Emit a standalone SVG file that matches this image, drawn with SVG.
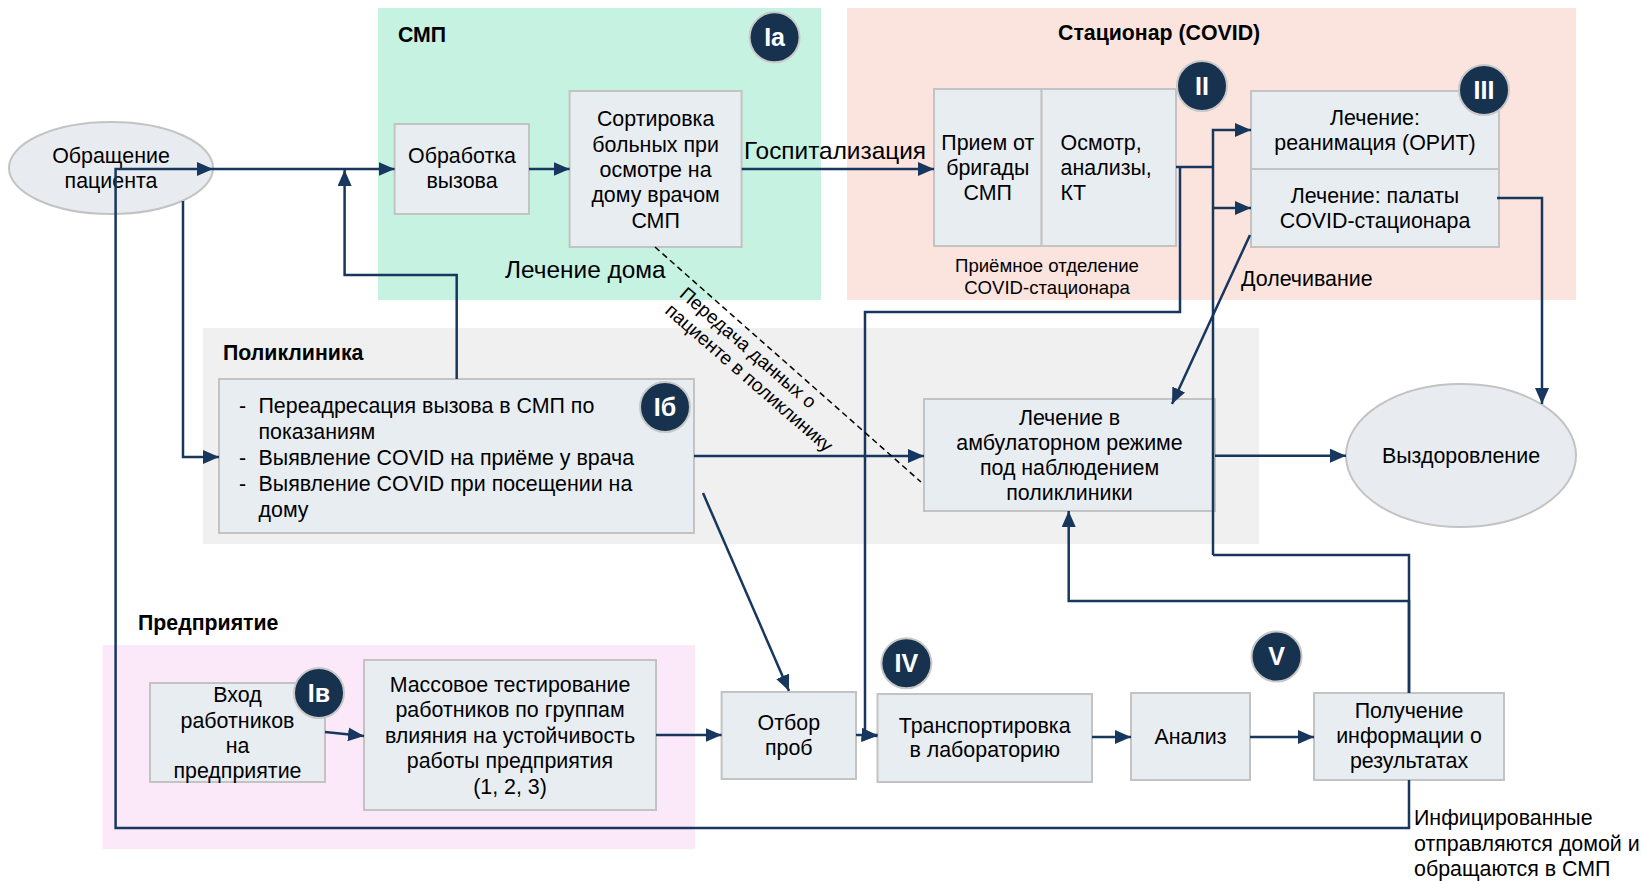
<svg xmlns="http://www.w3.org/2000/svg" width="1642" height="881" viewBox="0 0 1642 881">
  <style>
    text { font-family: "Liberation Sans", Arial, sans-serif; fill: #000; }
    .t { font-size: 21.4px; text-anchor: middle; }
    .tl { font-size: 21.4px; }
    .lbl { font-size: 24.4px; }
    .small { font-size: 18.6px; text-anchor: middle; }
    .rot { font-size: 19px; }
    .zone { font-size: 21.3px; font-weight: bold; }
    .box { fill: #E8EDF2; stroke: #C3C3C3; stroke-width: 2; }
    .badge circle { fill: #17324F; stroke: #C8C8C8; stroke-width: 2; }
    .badge text { fill: #fff; font-size: 25px; font-weight: bold; text-anchor: middle; }
    .c { fill: none; stroke: #17375E; stroke-width: 2.5; }
    .a { marker-end: url(#arrow); }
    .dash { fill: none; stroke: #000; stroke-width: 1.5; stroke-dasharray: 6 4; }
  </style>
  <defs>
    <marker id="arrow" markerUnits="userSpaceOnUse" markerWidth="16" markerHeight="14" refX="16" refY="7" orient="auto">
      <path d="M0,0 L16,7 L0,14 z" fill="#17375E"/>
    </marker>
  </defs>

  <rect width="1642" height="881" fill="#fff"/>

  <!-- zones -->
  <g id="zone-smp">
    <rect x="378" y="8" width="443" height="292" fill="#C6F2E2"/>
    <text class="zone" x="398" y="42">СМП</text>
  </g>
  <g id="zone-hospital">
    <rect x="847" y="8" width="729" height="292" fill="#FCE4DE"/>
    <text class="zone" x="1058" y="40">Стационар (COVID)</text>
  </g>
  <g id="zone-clinic">
    <rect x="203" y="328" width="1056" height="216" fill="#F0F0F0"/>
    <text class="zone" x="223" y="360">Поликлиника</text>
  </g>
  <g id="zone-enterprise">
    <rect x="102.5" y="645" width="592.5" height="204" fill="#FBE9FA"/>
    <text class="zone" x="138" y="630">Предприятие</text>
  </g>

  <!-- nodes -->
  <g id="n-appeal">
    <ellipse cx="111" cy="168" rx="102" ry="46" fill="#E8ECF0" stroke="#C3C3C3" stroke-width="2"/>
    <text class="t" x="111" y="163">Обращение</text>
    <text class="t" x="111" y="188">пациента</text>
  </g>
  <g id="n-call">
    <rect class="box" x="394.6" y="124" width="134.4" height="90"/>
    <text class="t" x="462" y="163">Обработка</text>
    <text class="t" x="462" y="188">вызова</text>
  </g>
  <g id="n-triage">
    <rect class="box" x="569.6" y="91" width="172" height="156"/>
    <text class="t" x="655.6" y="126">Сортировка</text>
    <text class="t" x="655.6" y="152">больных при</text>
    <text class="t" x="655.6" y="177">осмотре на</text>
    <text class="t" x="655.6" y="202">дому врачом</text>
    <text class="t" x="655.6" y="228">СМП</text>
  </g>
  <g id="n-admission">
    <rect class="box" x="934" y="89" width="107.6" height="157"/>
    <text class="t" x="987.8" y="150">Прием от</text>
    <text class="t" x="987.8" y="175">бригады</text>
    <text class="t" x="987.8" y="200">СМП</text>
    <rect class="box" x="1041.6" y="89" width="134.4" height="157"/>
    <text class="tl" x="1060.6" y="150">Осмотр,</text>
    <text class="tl" x="1060.6" y="175">анализы,</text>
    <text class="tl" x="1060.6" y="200">КТ</text>
    <text class="small" x="1047" y="272">Приёмное отделение</text>
    <text class="small" x="1047" y="294">COVID-стационара</text>
  </g>
  <g id="n-icu">
    <rect class="box" x="1251" y="91" width="248" height="78"/>
    <text class="t" x="1375" y="125">Лечение:</text>
    <text class="t" x="1375" y="150">реанимация (ОРИТ)</text>
  </g>
  <g id="n-ward">
    <rect class="box" x="1251" y="169" width="248" height="78"/>
    <text class="t" x="1375" y="203">Лечение: палаты</text>
    <text class="t" x="1375" y="228">COVID-стационара</text>
  </g>
  <g id="n-clinic">
    <rect class="box" x="219" y="379" width="475" height="154"/>
    <text class="tl" x="239" y="413">-</text>
    <text class="tl" x="258.5" y="413">Переадресация вызова в СМП по</text>
    <text class="tl" x="258.5" y="439">показаниям</text>
    <text class="tl" x="239" y="465">-</text>
    <text class="tl" x="258.5" y="465">Выявление COVID на приёме у врача</text>
    <text class="tl" x="239" y="491">-</text>
    <text class="tl" x="258.5" y="491">Выявление COVID при посещении на</text>
    <text class="tl" x="258.5" y="517">дому</text>
  </g>
  <g id="n-outpatient">
    <rect class="box" x="924" y="399" width="291" height="112"/>
    <text class="t" x="1069.5" y="425">Лечение в</text>
    <text class="t" x="1069.5" y="450">амбулаторном режиме</text>
    <text class="t" x="1069.5" y="475">под наблюдением</text>
    <text class="t" x="1069.5" y="500">поликлиники</text>
  </g>
  <g id="n-recovery">
    <ellipse cx="1461" cy="455.5" rx="115" ry="71.5" fill="#E8ECF0" stroke="#C3C3C3" stroke-width="2"/>
    <text class="t" x="1461" y="463">Выздоровление</text>
  </g>
  <g id="n-entry">
    <rect class="box" x="150" y="683" width="175" height="99"/>
    <text class="t" x="237.5" y="702">Вход</text>
    <text class="t" x="237.5" y="728">работников</text>
    <text class="t" x="237.5" y="753">на</text>
    <text class="t" x="237.5" y="778">предприятие</text>
  </g>
  <g id="n-mass-test">
    <rect class="box" x="364" y="660" width="292" height="150"/>
    <text class="t" x="510" y="692">Массовое тестирование</text>
    <text class="t" x="510" y="717">работников по группам</text>
    <text class="t" x="510" y="743">влияния на устойчивость</text>
    <text class="t" x="510" y="768">работы предприятия</text>
    <text class="t" x="510" y="794">(1, 2, 3)</text>
  </g>
  <g id="n-sampling">
    <rect class="box" x="721.6" y="692" width="134.4" height="87"/>
    <text class="t" x="788.8" y="730">Отбор</text>
    <text class="t" x="788.8" y="755">проб</text>
  </g>
  <g id="n-transport">
    <rect class="box" x="877.5" y="694" width="214.5" height="88"/>
    <text class="t" x="984.7" y="733">Транспортировка</text>
    <text class="t" x="984.7" y="757">в лабораторию</text>
  </g>
  <g id="n-analysis">
    <rect class="box" x="1131" y="693" width="119" height="87"/>
    <text class="t" x="1190.5" y="744">Анализ</text>
  </g>
  <g id="n-results">
    <rect class="box" x="1314" y="693" width="190" height="87"/>
    <text class="t" x="1409" y="718">Получение</text>
    <text class="t" x="1409" y="743">информации о</text>
    <text class="t" x="1409" y="768">результатах</text>
  </g>

  <!-- connectors -->
  <g id="connectors">
    <path class="c a" d="M213,169 H394.6"/>
    <path class="c a" d="M529,169 H569.6"/>
    <path class="c a" d="M741.7,169 H934"/>
    <path class="c" d="M1176,167 H1213"/>
    <path class="c a" d="M1213,555 V130 H1251"/>
    <path class="c a" d="M1213,208 H1251"/>
    <path class="c" d="M1409,693 V555 H1213"/>
    <path class="c a" d="M1180,167 V312 H865 V735 L877.5,736"/>
    <path class="c a" d="M1497,198 H1542 V404"/>
    <path class="c a" d="M1250,235 L1172,404"/>
    <path class="c a" d="M694,456 H924"/>
    <path class="c a" d="M1215,455.7 H1346"/>
    <path class="c a" d="M183,201 V457 H219"/>
    <path class="c a" d="M456.7,379 V275 H344.6 V170"/>
    <path class="c a" d="M703,493 L789,691"/>
    <path class="c a" d="M325,732 L364,736"/>
    <path class="c a" d="M656,735 H721.6"/>
    <path class="c a" d="M856,735 H877.5"/>
    <path class="c a" d="M1092,737 H1131"/>
    <path class="c a" d="M1250,737 H1314"/>
    <path class="c a" d="M1409,693 V601 H1068.7 V511"/>
    <path class="c a" d="M1409,780 V828 H115.6 V169 H213"/>
    <path class="dash" d="M655,247 L921,482"/>
    <text class="lbl" x="744" y="159">Госпитализация</text>
    <text class="lbl" x="505" y="278">Лечение дома</text>
    <text class="tl" x="1241" y="286">Долечивание</text>
    <text class="rot" transform="rotate(41)" x="706" y="-222">Передача данных о</text>
    <text class="rot" transform="rotate(41)" x="706" y="-200">пациенте  в поликлинику</text>
    <text class="tl" x="1414" y="825">Инфицированные</text>
    <text class="tl" x="1414" y="851">отправляются домой и</text>
    <text class="tl" x="1414" y="876">обращаются в СМП</text>
  </g>

  <!-- stage badges -->
  <g id="b-ia" class="badge"><circle cx="774.6" cy="37.3" r="25"/><text x="774.6" y="46">Ia</text></g>
  <g id="b-ii" class="badge"><circle cx="1202" cy="86" r="25"/><text x="1202" y="95">II</text></g>
  <g id="b-iii" class="badge"><circle cx="1484" cy="90" r="25"/><text x="1484" y="99">III</text></g>
  <g id="b-ib" class="badge"><circle cx="665" cy="407" r="25"/><text x="665" y="416">Iб</text></g>
  <g id="b-iv-c" class="badge"><circle cx="319" cy="693" r="25"/><text x="319" y="702">Iв</text></g>
  <g id="b-iv" class="badge"><circle cx="906.4" cy="663.3" r="25"/><text x="906.4" y="672">IV</text></g>
  <g id="b-v" class="badge"><circle cx="1276.6" cy="656.5" r="25"/><text x="1276.6" y="665">V</text></g>
</svg>
